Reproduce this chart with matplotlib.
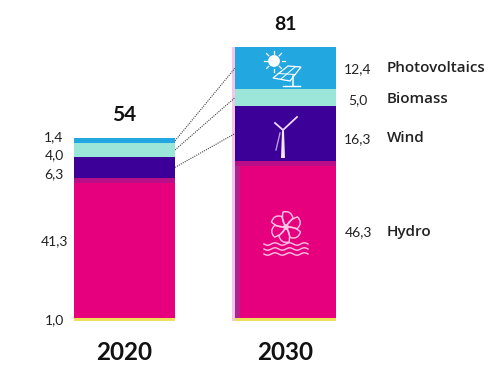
import numpy as np
import matplotlib.pyplot as plt
from matplotlib.patches import Circle, Polygon, PathPatch
from matplotlib.path import Path

plt.rcParams['font.family'] = ['Lato', 'DejaVu Sans']

years = ['2020', '2030']
names = ['Other', 'Hydro', 'Wind', 'Biomass', 'Photovoltaics']
colors = ['#ecdf5a', '#e6007e', '#3c0099', '#9be6d8', '#22a7e0']
other = [1.0, 1.0]
hydro = [41.3, 46.3]
wind = [6.3, 16.3]
biomass = [4.0, 5.0]
solar = [1.4, 12.4]
totals = [54, 81]
labels_2020 = ['1,0', '41,3', '6,3', '4,0', '1,4']
labels_2030 = ['46,3', '16,3', '5,0', '12,4']

stack = np.array([other, hydro, wind, biomass, solar])
bottoms = np.vstack([np.zeros(2), np.cumsum(stack, axis=0)[:-1]])
mids = bottoms + stack / 2

fig = plt.figure(figsize=(5, 3.79), dpi=100)
ax = fig.add_axes([0, 0, 1, 1])
ax.set_xlim(-0.773, 2.332)
ax.set_ylim(-17.16, 94.97)
ax.axis('off')

# pale fringe left of the 2030 bar
ax.bar(0.677, totals[1], 0.02, color='#f4c6ec', zorder=1)
for i in range(5):
    ax.bar([0, 1], stack[i], 0.627, bottom=bottoms[i], color=colors[i], zorder=2)
# darker strip and band where the pink meets the purple
ax.bar(0.702, hydro[1], 0.03, bottom=other[1], color='#b5208c', zorder=3)
ax.bar([0, 1], 1.5, 0.627, bottom=bottoms[2] - 1.5, color='#b80f88', zorder=3)

# dotted connectors between the stacks
for i in [2, 3, 4]:
    ax.plot([0.3135, 0.6865], [mids[i][0], mids[i][1]], color='#444444', lw=0.8, ls=(0, (1, 1)), zorder=1)

# overlay in pixels for the texts and the icons
ov = fig.add_axes([0, 0, 1, 1], facecolor='none')
ov.set_xlim(0, 500)
ov.set_ylim(379, 0)
ov.axis('off')

for lab, y in zip(labels_2020, [320, 241, 174, 155, 137]):
    ov.text(54, y, lab, ha='center', va='center', fontsize=10, color='#222222')
for lab, y in zip(labels_2030, [232, 139, 100, 69]):
    ov.text(358, y, lab, ha='center', va='center', fontsize=10, color='#222222')
for lab, y in zip(names[1:], [232, 138, 99, 68]):
    ov.text(387, y, lab, ha='left', va='center', fontsize=11, fontweight=600, family='Open Sans', color='#222222')
for yr, x in zip(years, [124.5, 285.5]):
    ov.text(x, 353, yr, ha='center', va='center', fontsize=17.5, fontweight='bold', color='#111111')
ov.text(124.5, 115, str(totals[0]), ha='center', va='center', fontsize=15, fontweight='bold', color='#111111')
ov.text(285.5, 24, str(totals[1]), ha='center', va='center', fontsize=14, fontweight='bold', color='#111111')

# solar icon
ov.add_patch(Circle((274, 61), 5.2, color='white', zorder=5))
for a in np.arange(0, 360, 45):
    c, s = np.cos(np.radians(a)), np.sin(np.radians(a))
    ov.plot([274 + 7.5 * c, 274 + 10.5 * c], [61 + 7.5 * s, 61 + 10.5 * s], color='white', lw=0.9, zorder=5)
ov.add_patch(Polygon([(273, 78), (288, 66), (301, 67), (290, 81)], fc='none', ec='white', lw=0.9, zorder=5))
ov.plot([278, 295], [73.5, 74.5], color='white', lw=0.7, zorder=5)
ov.plot([281, 295], [79, 67], color='white', lw=0.7, zorder=5)
ov.plot([293, 293], [76, 86], color='white', lw=1.1, zorder=5)
ov.plot([283, 300], [86, 86], color='white', lw=1.0, zorder=5)

# wind icon
ov.add_patch(Polygon([(282, 131), (284, 131), (285, 158), (281, 158)], fc='#f4e6fa', ec='none', zorder=5))
ov.plot([283, 297], [130, 117], color='#f0d8f5', lw=1.3, zorder=5)
ov.plot([283, 275], [130, 123], color='#f0d8f5', lw=1.3, zorder=5)
ov.plot([280, 276], [133, 150], color='#b79ad8', lw=1.0, zorder=5)

# hydro icon
petal = [(0, 0), (-5, -6), (-3, -15), (5, -17), (7, -9), (2, -3), (0, 0)]
codes = [Path.MOVETO, Path.CURVE3, Path.CURVE3, Path.CURVE3, Path.CURVE3, Path.LINETO, Path.CLOSEPOLY]
for a in np.arange(0, 360, 60):
    c, s = np.cos(np.radians(a)), np.sin(np.radians(a))
    pts = [(286 + px * c - py * s, 227 + px * s + py * c) for px, py in petal]
    ov.add_patch(PathPatch(Path(pts, codes), fc='none', ec='#ffc4e6', lw=1.0, zorder=5))
ov.add_patch(Circle((286, 227), 2.2, fc='none', ec='#ffc4e6', lw=0.9, zorder=5))
wx = np.linspace(264, 308, 90)
for wy in [244, 249, 254]:
    ov.plot(wx, wy + 1.2 * np.sin((wx - 264) / 44 * 2 * np.pi * 3), color='#ffc4e6', lw=1.0, zorder=5)

fig.savefig('out.png', dpi=100)
